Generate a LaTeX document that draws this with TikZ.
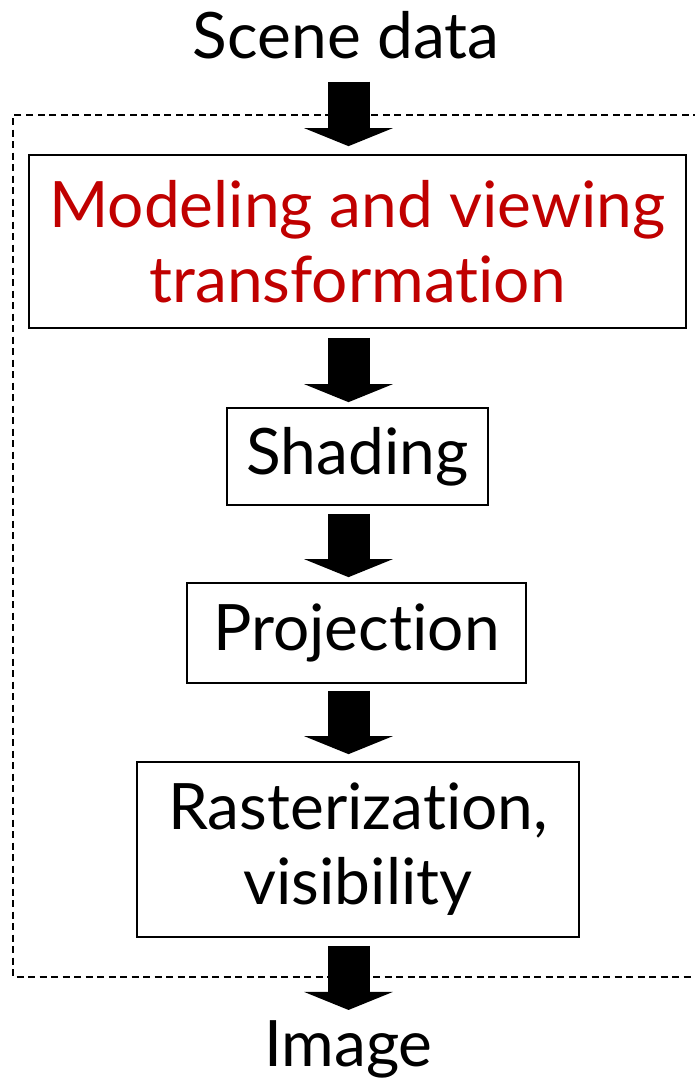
\documentclass[tikz,border=0pt]{standalone}
\usepackage{fontspec}
\setmainfont[Ligatures={NoCommon,NoRequired,NoContextual}]{Lato}
\usetikzlibrary{arrows.meta,calc}
\definecolor{mred}{RGB}{192,0,0}
\begin{document}
\begin{tikzpicture}[x=1pt,y=-1pt,
  stage/.style={draw, line width=1.7pt, inner sep=0pt, align=center, font=\fontsize{64}{75}\selectfont},
  lbl/.style={inner sep=0pt, font=\fontsize{64}{75}\selectfont},
  bigarrow/.style={line width=42pt, -{Triangle[width=88pt,length=18pt]}},
  region/.style={line width=1.3pt, dash pattern=on 7pt off 4.5pt}]
\useasboundingbox (0,0) rectangle (694,1079);
\draw[region] (700,115) -- (13,115) -- (13,977) -- (700,977);
\coordinate (ax) at (348.5,0);
\node[lbl, anchor=base] (scene) at (346,58) {Scene data};
\node[stage, minimum width=657pt, minimum height=173pt, text=mred] (model) at (357.5,241.5) {Modeling and viewing\\transformation};
\node[stage, minimum width=261pt, minimum height=97pt] (shade) at (357.5,456.5) {Shading};
\node[stage, minimum width=339pt, minimum height=100pt] (proj) at (356.5,633) {Projection};
\node[stage, minimum width=442pt, minimum height=175pt] (rast) at (358,849.5) {Rasterization,\\visibility};
\node[lbl, anchor=base] (image) at (348.5,1066) {Image};
\draw[bigarrow] ($(ax |- scene.south)+(0,23)$) -- ($(ax |- model.north)+(0,-8)$);
\draw[bigarrow] ($(ax |- model.south)+(0,9)$) -- ($(ax |- shade.north)+(0,-5)$);
\draw[bigarrow] ($(ax |- shade.south)+(0,8)$) -- ($(ax |- proj.north)+(0,-5)$);
\draw[bigarrow] ($(ax |- proj.south)+(0,7)$) -- ($(ax |- rast.north)+(0,-7)$);
\draw[bigarrow] ($(ax |- rast.south)+(0,8)$) -- ($(ax |- image.north)+(0,-10)$);
\end{tikzpicture}
\end{document}
